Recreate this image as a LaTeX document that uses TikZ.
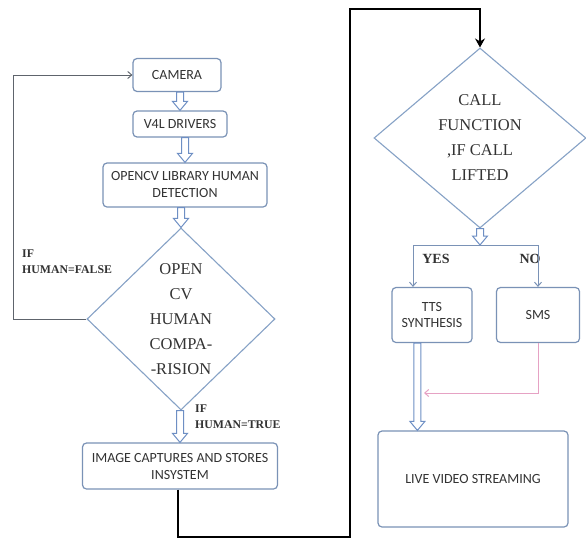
\documentclass[tikz,border=0pt]{standalone}
\usepackage{fontspec}
\setmainfont{Liberation Serif}
\newfontfamily\boxfont{Carlito}
\usetikzlibrary{shapes.geometric,arrows.meta,calc}

\definecolor{edgeblue}{HTML}{7A92B6}
\definecolor{diablue}{HTML}{86A2C6}
\definecolor{arrblue}{HTML}{6E8FC4}
\definecolor{loopgray}{HTML}{5E646C}
\definecolor{txtgray}{HTML}{333333}
\definecolor{pinkline}{HTML}{E6A2C4}

% vertical hollow block arrow from #1 down to the tip #2
\newcommand{\hollowarrow}[2]{%
  \draw[hollowarr]
    ($(#1 -| #2)+(-3.5,0)$) -- ($(#2)+(-3.5,-9)$) -- ($(#2)+(-7.5,-9)$) --
    (#2) -- ($(#2)+(7.5,-9)$) -- ($(#2)+(3.5,-9)$) --
    ($(#1 -| #2)+(3.5,0)$) -- cycle;}

\tikzset{
  procbox/.style={draw=edgeblue, line width=1.2pt, rounded corners=4pt,
    fill=white, align=center, text=txtgray, inner sep=2pt,
    font=\boxfont\fontsize{14}{17}\selectfont},
  decision/.style={diamond, draw=diablue, line width=1.1pt, inner sep=0pt},
  diatext/.style={align=center, text=txtgray, inner sep=0pt,
    font=\fontsize{16.5}{25}\selectfont},
  condlabel/.style={align=left, text=txtgray, inner sep=0pt,
    font=\bfseries\fontsize{11.8}{16}\selectfont},
  hollowarr/.style={draw=arrblue, line width=1pt, fill=white, line join=miter},
  loopline/.style={draw=loopgray, line width=0.9pt,
    -{Straight Barb[length=4pt,width=7pt]}},
  mainline/.style={draw=black, line width=2.6pt,
    -{Stealth[length=9pt,width=10pt,inset=3pt]}},
  branchline/.style={draw=edgeblue, line width=1pt,
    -{Straight Barb[length=4pt,width=7pt]}},
  smsline/.style={draw=pinkline, line width=1pt,
    -{Straight Barb[length=4pt,width=7pt]}},
}

\begin{document}
\begin{tikzpicture}[x=1pt,y=-1pt]
\useasboundingbox[fill=white] (0,0) rectangle (586,541);

% left column
\node[procbox, minimum width=88, minimum height=33] (cam) at (177,75) {CAMERA};
\node[procbox, minimum width=94, minimum height=26] (v4l) at (180,124) {V4L DRIVERS};
\node[procbox, minimum width=164, minimum height=44] (ocv) at (185,185)
  {OPENCV LIBRARY HUMAN\\DETECTION};
\node[decision, minimum width=188, minimum height=182] (human) at (181,319) {};
\node[diatext] (humantext) at (human.center) {OPEN\\CV\\HUMAN\\COMPA-\\-RISION};
\node[procbox, minimum width=195, minimum height=46] (img) at (180,466)
  {IMAGE CAPTURES AND STORES\\INSYSTEM};

% right column
\node[decision, minimum width=212, minimum height=180] (call) at (480,138) {};
\node[diatext] (calltext) at (call.center) {CALL\\FUNCTION\\,IF CALL\\LIFTED};
\node[procbox, minimum width=80, minimum height=55] (tts) at (432,315) {TTS\\SYNTHESIS};
\node[procbox, minimum width=83, minimum height=55] (sms) at (538,315) {SMS};
\node[procbox, minimum width=190, minimum height=96] (live) at (473,479)
  {LIVE VIDEO STREAMING};

% condition labels
\node[condlabel, anchor=north west] (falselbl) at (22,250) {IF\\HUMAN=FALSE};
\node[condlabel, anchor=north west] (truelbl) at (195,405) {IF\\HUMAN=TRUE};
\node[condlabel, font=\bfseries\fontsize{14}{16}\selectfont] (yeslbl) at (436,259) {YES};
\node[condlabel, font=\bfseries\fontsize{14}{16}\selectfont] (nolbl) at (530,259) {NO};

% helper points
\coordinate (br) at (480,245);
\coordinate (brL) at (413,245);
\coordinate (brR) at (538,245);
\coordinate (liveIn) at ($(live.north west)+(40,0)$);
\coordinate (pinkEnd) at (424,393);
\coordinate (loopA) at (13,319);
\coordinate (loopB) at (13,75);
\coordinate (mainA) at (178,537);
\coordinate (mainB) at (350,537);
\coordinate (mainC) at (350,9);
\coordinate (mainD) at (480,9);

% hollow flow arrows
\hollowarrow{cam.south}{v4l.north}
\hollowarrow{v4l.south}{ocv.north}
\hollowarrow{ocv.south}{human.north}
\hollowarrow{human.south}{img.north}
\hollowarrow{call.south}{br}
\hollowarrow{tts.south}{liveIn}

% loop back when no human is found
\draw[loopline] (human.west) -- (loopA) -- (loopB) -- (cam.west);

% link from the image store to the call decision
\draw[mainline] (img.south -| mainA) -- (mainA) -- (mainB) -- (mainC) -- (mainD) -- (call.north);

% yes / no branches
\draw[draw=edgeblue, line width=1pt] (brL) -- (brR);
\draw[branchline] (brL) -- (brL |- tts.north);
\draw[branchline] (brR) -- (brR |- sms.north);
\draw[smsline] (sms.south) |- (pinkEnd);
\end{tikzpicture}
\end{document}
